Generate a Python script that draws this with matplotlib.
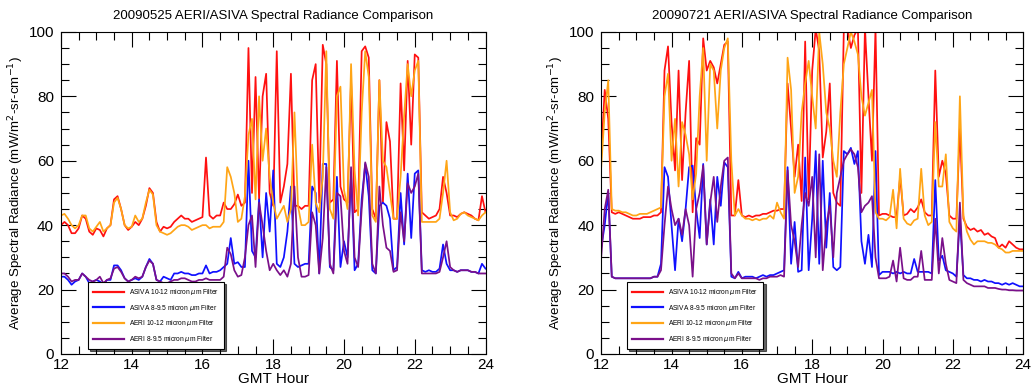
import matplotlib
matplotlib.use("Agg")
import matplotlib.pyplot as plt
import numpy as np
from matplotlib.ticker import MultipleLocator

plt.rcParams['font.family'] = ['Liberation Sans', 'DejaVu Sans']

# GMT hour grid, 0.1 h steps from 12 to 24
hours = np.linspace(12, 24, 121)

# 20090525 panel
asiva_1012_a = [40, 41, 40, 37.5, 37.5, 39, 43, 42, 38, 37,
                39, 38.5, 36.5, 39, 40, 48, 49, 45, 40, 38.5,
                39.5, 41, 40, 42, 46, 51.5, 50, 41, 38, 39.5,
                39, 39.5, 41, 42, 43, 42, 42, 41, 41.5, 42,
                42.5, 61, 43, 42, 43, 43, 47, 45, 45, 46.5,
                49.5, 46, 47, 95, 50, 86, 48, 80, 87, 50,
                46, 94, 47, 52, 59, 87, 46, 46, 45, 46,
                46, 85, 90, 47, 96, 90, 47, 48, 91, 52,
                48, 47, 85, 44, 45, 94, 95.5, 92, 45, 42,
                85, 47, 72, 66, 42, 42, 84, 57, 91, 65,
                93, 92, 44, 43, 42, 42.5, 43, 45, 55, 50,
                43, 43, 42.5, 43.5, 44, 43.5, 43, 42, 41.5, 49,
                44]
asiva_895_a = [24, 24, 23, 21.5, 22.5, 23, 25, 24, 22, 22.5,
               23, 22.5, 21.5, 23, 23, 27.5, 27.5, 26, 23.5, 22.5,
               23, 23.5, 23, 24, 27, 29.5, 28, 23, 22.5, 24,
               23.5, 23, 25, 25, 25.5, 25, 25, 24.5, 24.5, 25,
               25, 27.5, 25, 25.5, 25.5, 26, 27, 28, 36, 28,
               28.5, 27, 27, 60, 32, 30, 48, 30, 50, 38,
               57, 28, 27, 30, 38, 52, 28, 27, 27.5, 28,
               28, 52, 50, 25, 59, 59, 27, 26, 55, 27,
               35, 30, 56, 26, 28, 48, 59, 49, 26, 25,
               46, 47, 46, 42, 26, 27, 50, 34, 56, 36,
               56, 57, 26, 25.5, 26, 25.5, 25.5, 26.5, 34, 28,
               26, 26, 25.5, 26, 26, 26, 25.5, 25.5, 25, 28,
               26.5]
aeri_1012_a = [43, 43.5, 42, 40, 39, 40, 43, 43, 39, 38,
               39.5, 41, 38, 39, 40, 47, 48.5, 45, 40, 39,
               39.5, 43, 41, 42, 47, 51, 49.5, 40, 38, 37.5,
               37, 37.5, 38.5, 39.5, 40, 40, 39.5, 38.5, 39, 39.5,
               40, 40, 39, 39.5, 39.5, 39.5, 41, 58, 55, 50,
               41, 42, 49, 68, 73, 48, 80, 60, 70, 55,
               47, 42, 44, 46, 41, 45, 75, 46, 40, 40,
               41, 65, 47, 44, 55, 94, 45, 42, 80, 83,
               51, 45, 90, 57, 43, 75, 94, 86, 43, 41,
               85, 60, 58, 50, 42, 42, 55, 74, 90, 80,
               88, 91, 41, 41, 41, 41, 41, 42, 50, 60,
               44, 41.5, 42, 43.5, 44, 43, 42.5, 42, 41.5, 43,
               44]
aeri_895_a = [25, 25, 24, 22.5, 23, 23, 25, 24, 23, 22.5,
              23, 24, 22, 23, 23.5, 26.5, 27, 25.5, 23.5, 22.5,
              23, 24, 23.5, 24, 27, 29, 28, 23, 22.5, 22,
              22, 22.5, 23, 23, 23.5, 23.5, 23, 22.5, 22.5, 23,
              23, 23.5, 23, 23, 23, 23, 24, 33, 31, 26,
              24, 24.5, 30, 40, 43, 27, 47, 40, 32, 26,
              28, 26, 24.5, 26, 24, 28, 52, 30, 24, 24,
              24.5, 44, 40, 25, 36, 58, 28, 25, 50, 49,
              32, 28, 58, 30, 27, 45, 59.5, 55, 28, 25,
              52, 40, 33, 32, 25.5, 26, 44, 35, 53, 50,
              52, 56, 25, 25, 25, 25, 25, 25.5, 30, 35,
              27, 26, 25.5, 26, 26, 26, 25.5, 25.5, 25, 25,
              25]

# 20090721 panel
asiva_1012_b = [62, 82, 73, 44, 43.5, 44, 43.5, 43, 42.5, 42,
                42, 42, 42.5, 42.5, 42.5, 43, 43, 44, 88, 95.5,
                72, 57, 88, 54, 75, 91, 44, 67, 65, 98,
                88, 91, 89, 84, 90, 96, 97, 43, 43, 54,
                43, 42.5, 43, 42.5, 43, 43, 43.5, 43.5, 44, 44.5,
                44.5, 45, 45, 84, 70, 55, 65, 47.5, 97, 48,
                88, 101, 94, 61, 69, 84, 50, 47, 46, 101,
                101, 95, 99, 101, 50, 101, 80, 60, 101, 43,
                43.5, 43.5, 43, 42.5, 42.5, 55, 43, 43.5, 45, 44,
                45.5, 48, 44, 43, 43, 88, 55, 60, 56, 43,
                42, 42, 70, 42, 39.5, 38.5, 39, 38, 38.5, 37,
                37.5, 36.5, 36, 33, 34, 33, 35, 34, 33, 32.5,
                32.5]
asiva_895_b = [33, 40, 50, 24, 23.5, 23.5, 23.5, 23.5, 23.5, 23.5,
               23.5, 23.5, 23.5, 23.5, 23.5, 24, 24, 28, 58, 55,
               40, 26, 42, 35, 45, 58, 58.5, 45, 36, 59,
               34, 48, 34, 55, 46, 59.5, 58, 24, 23.5, 25.5,
               23.5, 24, 24, 24, 23.5, 24, 24.5, 24, 24.5, 24.5,
               25, 25.5, 26, 58, 28, 41, 25.5, 26, 61, 26,
               42, 63, 28, 60, 33, 50, 27, 26, 27, 63,
               62, 64, 59, 63, 35, 28, 37, 27, 63, 24.5,
               25.5, 25.5, 25.5, 25, 25.5, 25, 25.5, 25, 25, 29.5,
               25.5, 25.5, 25.5, 25.5, 25, 54, 29, 30.5, 26, 25.5,
               25, 24, 42, 24.5, 23.5, 23.5, 23, 23, 22.5, 23,
               22.5, 22.5, 22, 22, 21.5, 22, 21.5, 22, 21.5, 21,
               21]
aeri_1012_b = [58, 75, 85, 45, 44.5, 44.5, 44, 44, 43.5, 43,
               43, 43.5, 43.5, 43.5, 44, 44.5, 45, 45.5, 80, 87,
               60, 73, 52, 72, 68, 62, 48, 56, 80, 95,
               60, 90, 88, 70, 88, 95, 98, 60, 43, 45,
               43, 42, 42, 41.5, 42, 41.5, 42, 42, 43, 42,
               47, 44, 42, 92, 82, 50, 55, 75, 84, 91,
               80, 70, 100, 90, 75, 70, 60, 55, 75, 90,
               95, 100, 97, 93, 80, 74, 78, 82, 44, 42,
               42, 41.5, 42.5, 51, 39, 57.5, 42, 40.5, 40, 41.5,
               42, 57.5, 43, 40, 41, 72, 52, 52, 62, 41,
               39, 38, 80, 43, 38, 35.5, 34, 35, 35, 35,
               34.5, 34.5, 34, 33, 32.5, 31.5, 31.5, 32, 32, 32,
               32]
aeri_895_b = [30, 45, 51, 24, 23.5, 23.5, 23.5, 23.5, 23.5, 23.5,
              23.5, 23.5, 23.5, 23.5, 23.5, 24, 24, 26, 40, 52,
              45, 40, 42, 37, 45, 40, 24, 45, 50, 58.5,
              34, 47, 55, 41, 52, 60, 61, 25, 23.5, 25,
              23.5, 23.5, 23.5, 23.5, 23.5, 23, 23.5, 23.5, 24, 24,
              24, 24.5, 24, 57, 40, 35, 27, 40, 50, 46,
              55, 30, 62, 26, 40, 46, 30, 50, 55, 60,
              62, 63.5, 62, 58, 44, 46, 47, 49, 30, 23.5,
              23.5, 23.5, 24, 29, 22.5, 33, 23.5, 23, 23, 24,
              24, 32, 23, 23, 23, 42, 25, 36, 28, 23,
              22.5, 22, 47, 23, 22, 21.5, 21, 21, 21, 21,
              20.5, 20.5, 20.5, 20.2, 20, 20, 19.8, 19.8, 19.7, 19.7,
              19.7]

labels = ['ASIVA 10-12 micron $\\mu$m Filter', 'ASIVA 8-9.5 micron $\\mu$m Filter',
          'AERI 10-12 micron $\\mu$m Filter', 'AERI 8-9.5 micron $\\mu$m Filter']
colors = ['#ff1010', '#1010ff', '#ffa516', '#7a108a']


def plot_panel(ax, title, series, legend_x):
    for vals, lab, col in zip(series, labels, colors):
        ax.plot(hours, vals, color=col, lw=1.25, label=lab)
    ax.set_xlim(12, 24)
    ax.set_ylim(0, 100)
    ax.xaxis.set_major_locator(MultipleLocator(2))
    ax.xaxis.set_minor_locator(MultipleLocator(0.5))
    ax.yaxis.set_major_locator(MultipleLocator(20))
    ax.yaxis.set_minor_locator(MultipleLocator(5))
    ax.tick_params(which='both', direction='in', top=True, right=True, width=0.8, labelsize=11)
    ax.tick_params(which='major', length=11)
    ax.tick_params(which='minor', length=6)
    ax.tick_params(axis='x', which='major', pad=3)
    ax.tick_params(axis='y', which='major', pad=5)
    for sp in ax.spines.values():
        sp.set_linewidth(0.8)
    ax.set_title(title, fontsize=9.5, pad=9)
    ax.set_xlabel('GMT Hour', fontsize=11, labelpad=0)
    ax.set_ylabel('Average Spectral Radiance (mW/m$^2$-sr-cm$^{-1}$)', fontsize=9.6, labelpad=2)
    leg = ax.legend(loc='lower left', bbox_to_anchor=(legend_x, 0.016), borderaxespad=0,
                    fontsize=4.8, frameon=True, fancybox=False,
                    shadow={'color': 'black', 'alpha': 0.6, 'ox': 1.5, 'oy': -1.5},
                    handlelength=4.6, labelspacing=0.85, borderpad=0.75, handletextpad=0.8)
    leg.get_frame().set_edgecolor('black')
    leg.get_frame().set_linewidth(0.8)
    for line in leg.get_lines():
        line.set_linewidth(1.6)


fig = plt.figure(figsize=(10.33, 3.89), dpi=100)
ax1 = fig.add_axes([0.059, 0.090, 0.411, 0.828])
ax2 = fig.add_axes([0.582, 0.090, 0.4085, 0.828])

plot_panel(ax1, '20090525 AERI/ASIVA Spectral Radiance Comparison',
           [asiva_1012_a, asiva_895_a, aeri_1012_a, aeri_895_a], 0.064)
plot_panel(ax2, '20090721 AERI/ASIVA Spectral Radiance Comparison',
           [asiva_1012_b, asiva_895_b, aeri_1012_b, aeri_895_b], 0.062)

fig.savefig('out.png', dpi=100)
plt.close(fig)
